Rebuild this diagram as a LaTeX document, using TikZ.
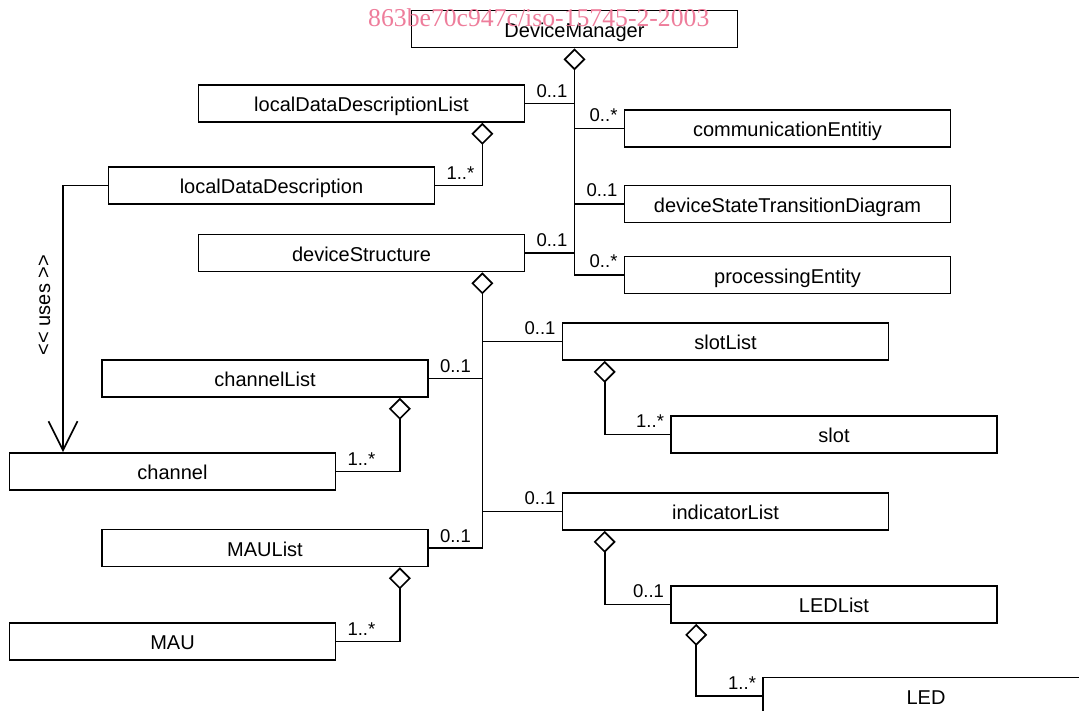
\documentclass[tikz,border=0pt]{standalone}
\usepackage{fontspec}
\setmainfont{Liberation Sans}
\newfontfamily\wmfont{Liberation Serif}
\usetikzlibrary{arrows.meta}
\definecolor{wmpink}{RGB}{238,125,155}
\begin{document}
\begin{tikzpicture}[x=1pt,y=-1pt,
  cls/.style={draw, line width=1.7pt, minimum width=326pt, minimum height=37pt,
    inner sep=0pt, fill=white, text height=16.5pt, text depth=0pt,
    font=\fontsize{20}{24}\selectfont},
  con/.style={line width=1.7pt},
  agg/.style={con, {Diamond[open,length=22pt,width=22pt]}-},
  usesarrow/.style={con, -{Straight Barb[length=29pt,width=29pt]}},
  mult/.style={font=\fontsize{18.5}{22}\selectfont, inner sep=0pt},
  multw/.style={mult, anchor=base west, xshift=11pt, yshift=6pt},
  multe/.style={mult, anchor=base east, xshift=-6pt, yshift=7pt}]
\useasboundingbox (0,0) rectangle (1079,711);
\clip (0,0) rectangle (1079,711);

% classes
\node[cls] (DM)   at (574.5,29)   {DeviceManager};
\node[cls] (lddl) at (361.5,103.5) {localDataDescriptionList};
\node[cls] (comm) at (787.5,128.5) {communicationEntitiy};
\node[cls] (ldd)  at (271.5,185.5) {localDataDescription};
\node[cls] (dstd) at (787.5,204)   {deviceStateTransitionDiagram};
\node[cls] (ds)   at (361.5,253)   {deviceStructure};
\node[cls] (pe)   at (787.5,275)   {processingEntity};
\node[cls] (sl)   at (725.5,341.5) {slotList};
\node[cls] (chl)  at (265,378.5)   {channelList};
\node[cls] (slot) at (834,434.5)   {slot};
\node[cls] (ch)   at (172.5,471.5) {channel};
\node[cls] (il)   at (725.5,511.5) {indicatorList};
\node[cls] (maul) at (265,548)     {MAUList};
\node[cls] (ledl) at (834,604.5)   {LEDList};
\node[cls] (mau)  at (172.5,641.5) {MAU};
\node[cls] (led)  at (926,696)     {LED};

% DeviceManager aggregation
\draw[agg] (DM.south) |- (pe.west);
\draw[con] (DM.south |- lddl.east) -- (lddl.east);
\draw[con] (DM.south |- comm.west) -- (comm.west);
\draw[con] (DM.south |- dstd.west) -- (dstd.west);
\draw[con] (DM.south |- ds.east) -- (ds.east);

% localDataDescriptionList
\draw[agg] ([xshift=-43pt]lddl.south east) |- (ldd.east);

% uses dependency
\coordinate (ux) at (63,0);
\draw[usesarrow] (ldd.west) -| (ux |- ch.north);
\node[font=\fontsize{20}{24}\selectfont, rotate=90, anchor=base, inner sep=0pt] (uses) at (50,305) {<{}< uses >{}>};

% deviceStructure aggregation
\coordinate (dst) at ([xshift=-43pt]ds.south east);
\draw[agg] (dst) |- (maul.east);
\draw[con] (dst |- sl.west) -- (sl.west);
\draw[con] (dst |- chl.east) -- (chl.east);
\draw[con] (dst |- il.west) -- (il.west);

% sub aggregations
\draw[agg] ([xshift=43pt]sl.south west) |- (slot.west);
\draw[agg] ([xshift=-29pt]chl.south east) |- (ch.east);
\draw[agg] ([xshift=43pt]il.south west) |- (ledl.west);
\draw[agg] ([xshift=26pt]ledl.south west) |- (led.west);
\draw[agg] ([xshift=-29pt]maul.south east) |- (mau.east);

% multiplicities
\node[multw] (m1)  at (lddl.east) {0..1};
\node[multe] (m2)  at (comm.west) {0..*};
\node[multe] (m3)  at (dstd.west) {0..1};
\node[multw] (m4)  at (ds.east)   {0..1};
\node[multe] (m5)  at (pe.west)   {0..*};
\node[multw] (m6)  at (ldd.east)  {1..*};
\node[multe] (m7)  at (sl.west)   {0..1};
\node[multw] (m8)  at (chl.east)  {0..1};
\node[multe] (m9)  at (slot.west) {1..*};
\node[multw] (m10) at (ch.east)   {1..*};
\node[multe] (m11) at (il.west)   {0..1};
\node[multw] (m12) at (maul.east) {0..1};
\node[multw] (m13) at (mau.east)  {1..*};
\node[multe] (m14) at (ledl.west) {0..1};
\node[multe] (m15) at (led.west)  {1..*};

% watermark
\node[anchor=base west, inner sep=0pt, text=wmpink, font=\wmfont\fontsize{25.7}{30}\selectfont] (wm) at (368,27) {863be70c947c/iso-15745-2-2003};
\end{tikzpicture}
\end{document}
